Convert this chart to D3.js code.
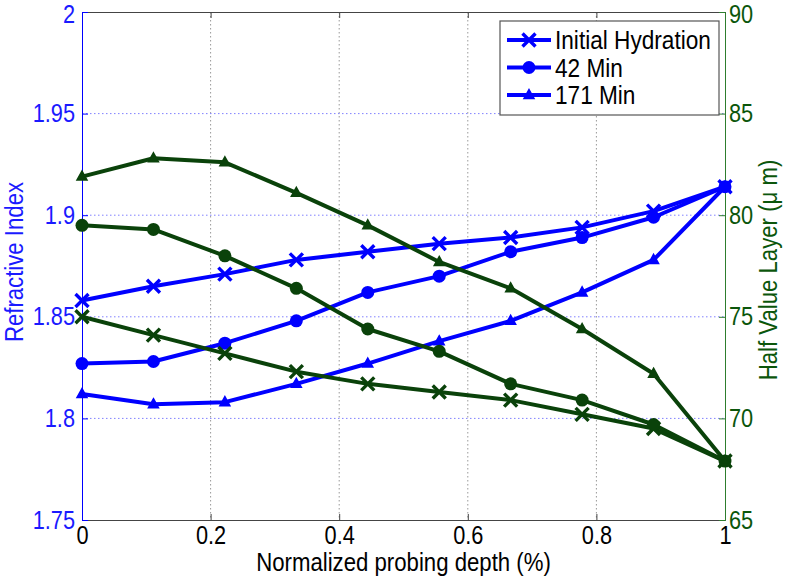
<!DOCTYPE html>
<html>
<head>
<meta charset="utf-8">
<script src="https://cdn.jsdelivr.net/npm/d3@7"></script>
<style>
  html, body { margin: 0; padding: 0; background: #fff; }
  svg { display: block; font-family: "Liberation Sans", Arial, sans-serif; }
</style>
</head>
<body>
<svg id="chart" width="791" height="581"></svg>
<script>
// ---- data ----
const depth = [0, 1/9, 2/9, 3/9, 4/9, 5/9, 6/9, 7/9, 8/9, 1];
const seriesNames = ["Initial Hydration", "42 Min", "171 Min"];
const riInitial = [1.858, 1.865, 1.871, 1.878, 1.882, 1.886, 1.889, 1.894, 1.902, 1.914];
const ri42 = [1.827, 1.828, 1.837, 1.848, 1.862, 1.870, 1.882, 1.889, 1.899, 1.914];
const ri171 = [1.812, 1.807, 1.808, 1.817, 1.827, 1.838, 1.848, 1.862, 1.878, 1.914];
const hvlInitial = [75.0, 74.1, 73.2, 72.3, 71.7, 71.3, 70.9, 70.2, 69.5, 67.9];
const hvl42 = [79.5, 79.3, 78.0, 76.4, 74.4, 73.3, 71.7, 70.9, 69.7, 67.9];
const hvl171 = [81.9, 82.8, 82.6, 81.1, 79.5, 77.7, 76.4, 74.4, 72.2, 67.9];
const xTicks = [0, 0.2, 0.4, 0.6, 0.8, 1];
const leftTicks = [1.75, 1.8, 1.85, 1.9, 1.95, 2];
const rightTicks = [65, 70, 75, 80, 85, 90];
const markerTypes = ["x", "circle", "triangle"];

// ---- layout ----
const W = 791, H = 581;
const m = { left: 82, right: 66, top: 12, bottom: 61 };
const pw = W - m.left - m.right, ph = H - m.top - m.bottom;
const BLUE = "#0000ff", BLUE_TXT = "#1a1aff";
const GREEN = "#0a420a", GREEN_TXT = "#0b560b";
const SX = 0.87;      // horizontal condensing of text (narrow Helvetica look)
const FS = 25;

const svg = d3.select("#chart");
const g = svg.append("g").attr("transform", `translate(${m.left},${m.top})`);

const x = d3.scaleLinear().domain([0, 1]).range([0, pw]);
const yL = d3.scaleLinear().domain([1.75, 2]).range([ph, 0]);
const yR = d3.scaleLinear().domain([65, 90]).range([ph, 0]);

function condense(sel) {
  sel.each(function () {
    const t = d3.select(this);
    const tx = +t.attr("x") || 0, ty = +t.attr("y") || 0;
    t.attr("x", 0).attr("y", 0).attr("transform", `translate(${tx},${ty}) scale(${SX},1)`);
  });
}

// grid
g.append("g").selectAll("line").data(xTicks.slice(1, -1)).join("line")
  .attr("x1", d => x(d)).attr("x2", d => x(d)).attr("y1", 0).attr("y2", ph)
  .attr("stroke", "#999").attr("stroke-width", 1).attr("stroke-dasharray", "1.5,2.5");
g.append("g").selectAll("line").data(leftTicks.slice(1, -1)).join("line")
  .attr("x1", 0).attr("x2", pw).attr("y1", d => yL(d)).attr("y2", d => yL(d))
  .attr("stroke", "#8080ff").attr("stroke-width", 1).attr("stroke-dasharray", "1.5,2.5");

// axes
const xAxis = g.append("g").attr("transform", `translate(0,${ph})`)
  .call(d3.axisBottom(x).tickValues(xTicks).tickSize(-6).tickPadding(6).tickFormat(d3.format("~g")));
xAxis.select(".domain").attr("stroke", "#444");
xAxis.selectAll(".tick line").attr("stroke", "#444");
xAxis.selectAll("text").attr("font-size", FS).attr("fill", "#000").attr("font-family", "Liberation Sans, Arial, sans-serif");
condense(xAxis.selectAll("text"));

const xTop = g.append("g")
  .call(d3.axisTop(x).tickValues(xTicks).tickSize(-6).tickFormat(""));
xTop.select(".domain").attr("stroke", "#444");
xTop.selectAll(".tick line").attr("stroke", "#444");

const lAxis = g.append("g")
  .call(d3.axisLeft(yL).tickValues(leftTicks).tickSize(-6).tickPadding(7).tickFormat(d3.format("~g")));
lAxis.select(".domain").attr("stroke", BLUE);
lAxis.selectAll(".tick line").attr("stroke", BLUE);
lAxis.selectAll("text").attr("font-size", FS).attr("fill", BLUE_TXT).attr("font-family", "Liberation Sans, Arial, sans-serif");
lAxis.selectAll("text").filter(d => d === 2).attr("dy", "0.4em");
condense(lAxis.selectAll("text"));

const rAxis = g.append("g").attr("transform", `translate(${pw},0)`)
  .call(d3.axisRight(yR).tickValues(rightTicks).tickSize(-6).tickPadding(4).tickFormat(d3.format("~g")));
rAxis.select(".domain").attr("stroke", "#2e7d2e");
rAxis.selectAll(".tick line").attr("stroke", "#2e7d2e");
rAxis.selectAll("text").attr("font-size", FS).attr("fill", GREEN_TXT).attr("font-family", "Liberation Sans, Arial, sans-serif");
rAxis.selectAll("text").filter(d => d === 90).attr("dy", "0.4em");
condense(rAxis.selectAll("text"));

// axis labels
svg.append("text").attr("transform", `translate(${m.left + pw / 2},571) scale(${SX},1)`)
  .attr("text-anchor", "middle").attr("font-size", 25.5).attr("fill", "#000")
  .text("Normalized probing depth (%)");
svg.append("text").attr("transform", `translate(23,${m.top + ph / 2 - 4}) rotate(-90) scale(${SX},1)`)
  .attr("text-anchor", "middle").attr("font-size", 25.5).attr("fill", BLUE_TXT)
  .text("Refractive Index");
svg.append("text").attr("transform", `translate(777,${m.top + ph / 2 + 4}) rotate(-90) scale(${SX},1)`)
  .attr("text-anchor", "middle").attr("font-size", 25.5).attr("fill", GREEN_TXT)
  .text("Half Value Layer (μ m)");

// marker helper
function drawMarker(sel, type, color) {
  if (type === "x") {
    sel.append("path").attr("d", "M-6.5,-6.5L6.5,6.5M-6.5,6.5L6.5,-6.5")
      .attr("stroke", color).attr("stroke-width", 3.4).attr("fill", "none");
  } else if (type === "circle") {
    sel.append("circle").attr("r", 6.5).attr("fill", color);
  } else {
    sel.append("path").attr("d", "M0,-5.5L5,3.5L-5,3.5Z").attr("fill", color)
      .attr("stroke", color).attr("stroke-width", 1.5);
  }
}

function drawSeries(vals, yScale, color, type, lw) {
  const line = d3.line().x((d, i) => x(depth[i])).y(d => yScale(d));
  g.append("path").datum(vals).attr("d", line)
    .attr("fill", "none").attr("stroke", color).attr("stroke-width", lw)
    .attr("stroke-linejoin", "round");
  const pts = g.append("g").selectAll("g").data(vals).join("g")
    .attr("transform", (d, i) => `translate(${x(depth[i])},${yScale(d)})`);
  pts.each(function () { drawMarker(d3.select(this), type, color); });
}

const blueSeries = [riInitial, ri42, ri171];
const greenSeries = [hvlInitial, hvl42, hvl171];
blueSeries.forEach((s, i) => drawSeries(s, yL, BLUE, markerTypes[i], 4));
greenSeries.forEach((s, i) => drawSeries(s, yR, GREEN, markerTypes[i], 4));

// legend
const lg = svg.append("g").attr("transform", "translate(500,21)");
lg.append("rect").attr("x", 0).attr("y", 0).attr("width", 219).attr("height", 94)
  .attr("fill", "#fff").attr("stroke", "#555").attr("stroke-width", 1.2);
seriesNames.forEach((name, i) => {
  const row = lg.append("g").attr("transform", `translate(0,${19 + i * 27.5})`);
  row.append("line").attr("x1", 7).attr("x2", 51).attr("y1", 0).attr("y2", 0)
    .attr("stroke", BLUE).attr("stroke-width", 4);
  const mk = row.append("g").attr("transform", "translate(29,0)");
  drawMarker(mk, markerTypes[i], BLUE);
  row.append("text").attr("transform", `translate(55,9) scale(${SX},1)`)
    .attr("font-size", 26).attr("fill", "#000").text(name);
});
</script>
</body>
</html>
